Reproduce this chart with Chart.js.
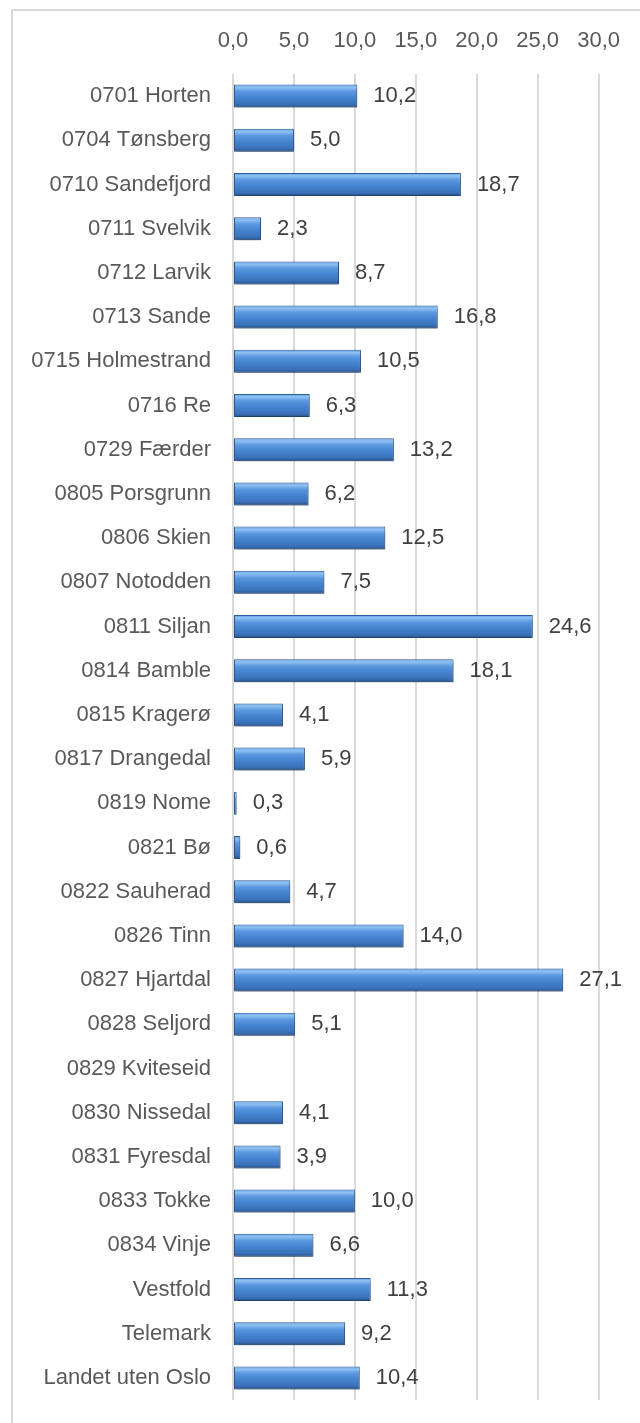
<!DOCTYPE html>
<html lang="no">
<head>
  <meta charset="UTF-8" />
  <title>Kommuner</title>
  <script src="https://cdn.jsdelivr.net/npm/chart.js"></script>
  <style>
    html, body { margin: 0; padding: 0; background: #fff; overflow: hidden; }
    .frame {
      position: absolute; left: 11px; top: 9px; width: 700px; height: 1500px;
      border: 2px solid #d9d9d9; box-sizing: border-box;
    }
    canvas { position: absolute; left: 0; top: 0; }
  </style>
</head>
<body>
  <div class="frame"></div>
  <canvas id="chart" width="640" height="1423"></canvas>
  <script>
    const categories = [
      '0701 Horten', '0704 Tønsberg', '0710 Sandefjord', '0711 Svelvik', '0712 Larvik',
      '0713 Sande', '0715 Holmestrand', '0716 Re', '0729 Færder', '0805 Porsgrunn',
      '0806 Skien', '0807 Notodden', '0811 Siljan', '0814 Bamble', '0815 Kragerø',
      '0817 Drangedal', '0819 Nome', '0821 Bø', '0822 Sauherad', '0826 Tinn',
      '0827 Hjartdal', '0828 Seljord', '0829 Kviteseid', '0830 Nissedal', '0831 Fyresdal',
      '0833 Tokke', '0834 Vinje', 'Vestfold', 'Telemark', 'Landet uten Oslo'
    ];
    const values = [
      10.2, 5.0, 18.7, 2.3, 8.7,
      16.8, 10.5, 6.3, 13.2, 6.2,
      12.5, 7.5, 24.6, 18.1, 4.1,
      5.9, 0.3, 0.6, 4.7, 14.0,
      27.1, 5.1, null, 4.1, 3.9,
      10.0, 6.6, 11.3, 9.2, 10.4
    ];
    const xTicks = [0, 5, 10, 15, 20, 25, 30];

    const font = { family: "'Liberation Sans', Arial, sans-serif", size: 22 };
    const fmt = v => v.toFixed(1).replace('.', ',');

    function barFill(c) {
      const ch = c.chart;
      if (!ch.chartArea) return '#4a86d0';
      const y = ch.scales.y.getPixelForValue(c.dataIndex);
      const h = 23;
      const g = ch.ctx.createLinearGradient(0, y - h / 2, 0, y + h / 2);
      g.addColorStop(0, '#5d9ae0');
      g.addColorStop(0.12, '#8fc2f3');
      g.addColorStop(0.3, '#5c98e0');
      g.addColorStop(0.55, '#4684d1');
      g.addColorStop(0.85, '#3a71b9');
      g.addColorStop(1, '#274f86');
      return g;
    }

    const barLook = {
      id: 'barLook',
      beforeDatasetsDraw(chart) {
        const ctx = chart.ctx;
        ctx.save();
        ctx.shadowColor = 'rgba(0,0,0,0.35)';
        ctx.shadowBlur = 4;
        ctx.shadowOffsetX = 1;
        ctx.shadowOffsetY = 3;
      },
      afterDatasetsDraw(chart) {
        const ctx = chart.ctx;
        ctx.restore();
        const meta = chart.getDatasetMeta(0);
        ctx.save();
        ctx.font = "22px 'Liberation Sans', Arial, sans-serif";
        ctx.fillStyle = '#404040';
        ctx.textAlign = 'left';
        ctx.textBaseline = 'middle';
        meta.data.forEach((bar, i) => {
          const v = values[i];
          if (v === null) return;
          ctx.fillText(fmt(v), bar.x + 16, bar.y);
        });
        ctx.restore();
      }
    };

    new Chart(document.getElementById('chart'), {
      type: 'bar',
      data: {
        labels: categories,
        datasets: [{
          data: values,
          backgroundColor: barFill,
          borderColor: '#2f5f9c',
          borderWidth: 1,
          borderSkipped: false,
          barPercentage: 0.52,
          categoryPercentage: 1
        }]
      },
      options: {
        indexAxis: 'y',
        responsive: false,
        animation: false,
        layout: { padding: { left: 0, top: 0, right: 39, bottom: 23 } },
        plugins: { legend: { display: false }, tooltip: { enabled: false } },
        scales: {
          x: {
            position: 'top',
            min: 0,
            max: 30,
            afterFit(s) { s.height = 74; },
            afterBuildTicks(s) { s.ticks = xTicks.map(v => ({ value: v })); },
            grid: { color: '#d9d9d9', lineWidth: 2, drawTicks: false },
            border: { display: false },
            ticks: { color: '#595959', font, padding: 20, callback: v => fmt(v), maxRotation: 0 }
          },
          y: {
            afterFit(s) { s.width = 233; s.paddingTop = 0; s.paddingBottom = 0; },
            grid: { display: false, drawTicks: false },
            border: { display: false },
            ticks: { color: '#595959', font, padding: 22, autoSkip: false }
          }
        }
      },
      plugins: [barLook]
    });
  </script>
</body>
</html>
